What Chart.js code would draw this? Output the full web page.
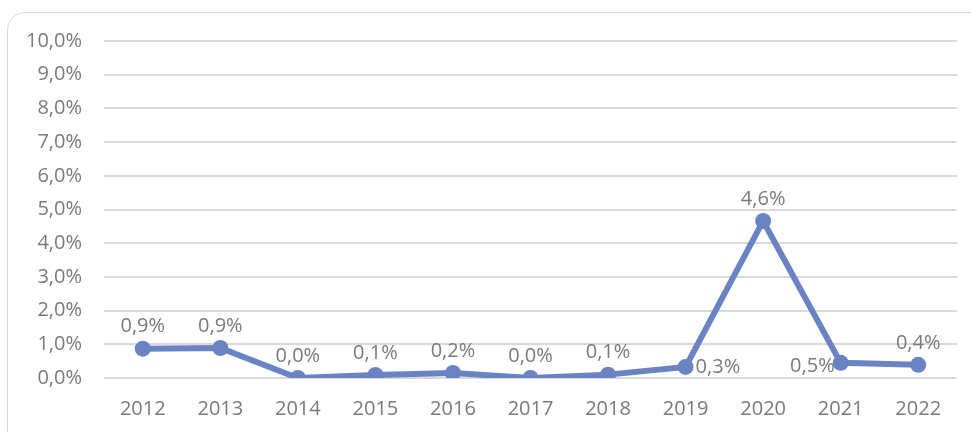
<!DOCTYPE html>
<html><head><meta charset="utf-8">
<script src="https://cdn.jsdelivr.net/npm/chart.js@4/dist/chart.umd.min.js"></script>
<style>
html,body{margin:0;padding:0;background:#fff;overflow:hidden;}
#frame{position:absolute;left:7px;top:12px;width:990px;height:460px;border:1px solid #d9d9d9;border-radius:18px;box-sizing:border-box;}
#wrap{position:absolute;left:0;top:0;width:971px;height:432px;}
</style></head>
<body>
<div id="frame"></div>
<div id="wrap"><canvas id="c" width="971" height="432"></canvas></div>
<script>
const years = ['2012','2013','2014','2015','2016','2017','2018','2019','2020','2021','2022'];
const rates = [0.0087, 0.0089, 0.0000, 0.0009, 0.0015, 0.0000, 0.0010, 0.0033, 0.0466, 0.0045, 0.0039];
const valueLabels = ['0,9%','0,9%','0,0%','0,1%','0,2%','0,0%','0,1%','0,3%','4,6%','0,5%','0,4%'];
const labelPlacement = ['top','top','top','top','top','top','top','right','top','left','top'];

const FONT = '"Open Sans", "Noto Sans", sans-serif';
const GREY = '#7a7a7a';
const BLUE = '#6a84c3';
const FS = 20;

const labelPlugin = {
  id: 'valueLabels',
  afterDatasetsDraw(chart) {
    const ctx = chart.ctx;
    const meta = chart.getDatasetMeta(0);
    ctx.save();
    ctx.font = FS + 'px ' + FONT;
    ctx.fillStyle = GREY;
    meta.data.forEach((pt, i) => {
      const p = labelPlacement[i];
      ctx.textBaseline = 'middle';
      if (p === 'top') { ctx.textAlign = 'center'; ctx.fillText(valueLabels[i], pt.x, pt.y - 22); }
      else if (p === 'right') { ctx.textAlign = 'left'; ctx.fillText(valueLabels[i], pt.x + 10, pt.y); }
      else { ctx.textAlign = 'right'; ctx.fillText(valueLabels[i], pt.x - 6, pt.y + 3); }
    });
    ctx.restore();
  }
};

new Chart(document.getElementById('c'), {
  type: 'line',
  data: {
    labels: years,
    datasets: [{
      data: rates,
      borderColor: BLUE,
      backgroundColor: BLUE,
      borderWidth: 6,
      pointRadius: 8,
      pointHoverRadius: 8,
      pointBackgroundColor: BLUE,
      pointBorderWidth: 0,
      tension: 0
    }]
  },
  options: {
    responsive: false,
    animation: false,
    devicePixelRatio: 1,
    layout: { padding: { left: 0, right: 14, top: 41, bottom: 0 } },
    plugins: { legend: { display: false }, tooltip: { enabled: false } },
    scales: {
      x: {
        offset: true,
        grid: { display: false, drawTicks: false },
        border: { display: false },
        ticks: { color: GREY, font: { family: FONT, size: FS }, padding: 19, maxRotation: 0 },
        afterFit(s) { s.height = 54; }
      },
      y: {
        min: 0, max: 0.1,
        grid: { color: '#d9d9d9', lineWidth: 2, drawTicks: false },
        border: { display: false },
        ticks: {
          stepSize: 0.01, color: GREY, font: { family: FONT, size: FS }, padding: 22,
          callback: v => (v * 100).toFixed(1).replace('.', ',') + '%'
        },
        afterFit(s) { s.width = 104; }
      }
    }
  },
  plugins: [labelPlugin]
});
</script>
</body></html>
